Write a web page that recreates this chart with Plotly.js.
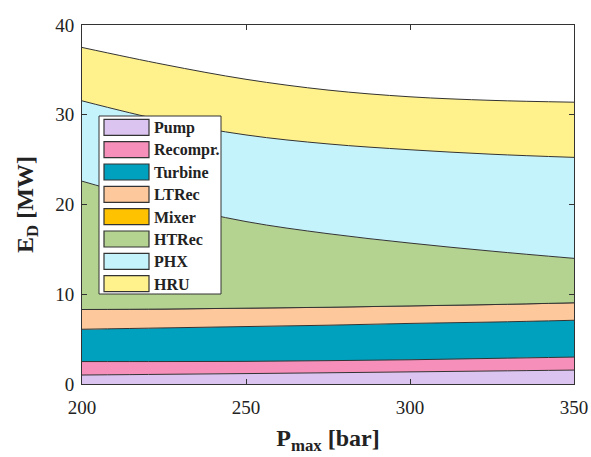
<!DOCTYPE html>
<html>
<head>
<meta charset="utf-8">
<script src="https://cdn.plot.ly/plotly-3.0.1.min.js"></script>
<style>html,body{margin:0;padding:0;background:#fff;}#chart{width:591px;height:457px;}</style>
</head>
<body>
<div id="chart"></div>
<script>
// P_max [bar]
const pmax = [200, 225, 250, 275, 300, 325, 350];
// Exergy destruction per component [MW] (stacked)
const pump     = [1.00, 1.08, 1.16, 1.25, 1.35, 1.45, 1.55];
const recompr  = [1.50, 1.42, 1.36, 1.35, 1.35, 1.40, 1.45];
const turbine  = [3.60, 3.75, 3.88, 3.95, 4.05, 4.05, 4.10];
const ltrec    = [2.20, 2.10, 2.05, 2.00, 1.95, 1.95, 1.95];
const mixer    = [0.00, 0.00, 0.00, 0.00, 0.00, 0.00, 0.00];
const htrec    = [14.30, 11.75, 9.65, 8.20, 7.00, 5.95, 4.95];
const phx      = [8.95, 9.25, 9.65, 10.00, 10.40, 10.80, 11.25];
const hru      = [5.95, 6.25, 6.20, 6.00, 5.90, 6.00, 6.15];

const names  = ['Pump', 'Recompr.', 'Turbine', 'LTRec', 'Mixer', 'HTRec', 'PHX', 'HRU'];
const series = [pump, recompr, turbine, ltrec, mixer, htrec, phx, hru];
const colors = ['#dcc4f1', '#f78fbb', '#00a1bf', '#fdc89b', '#fec200', '#b4d290', '#c5f3fb', '#fff18c'];

const xTicks = [200, 250, 300, 350];
const yTicks = [0, 10, 20, 30, 40];

const traces = series.map((s, i) => ({
  x: pmax,
  y: s,
  name: names[i],
  type: 'scatter',
  mode: 'lines',
  stackgroup: 'one',
  fillcolor: colors[i],
  line: {color: '#333333', width: 1, shape: 'spline', smoothing: 1},
  showlegend: false,
  hoverinfo: 'x+y+name'
}));

// manual legend (boxed swatches like the original)
const L = 82, T = 25, W = 492, H = 359;
const px = v => (v - L) / W;
const py = v => (T + H - v) / H;
const shapes = [{
  type: 'rect', xref: 'paper', yref: 'paper',
  x0: px(99), x1: px(221), y0: py(294), y1: py(116),
  fillcolor: '#ffffff', line: {color: '#333333', width: 1}
}];
const annotations = [];
names.forEach((n, i) => {
  const top = 119.3 + 22.34 * i;
  shapes.push({
    type: 'rect', xref: 'paper', yref: 'paper',
    x0: px(104), x1: px(149), y0: py(top + 16), y1: py(top),
    fillcolor: colors[i], line: {color: '#333333', width: 1.2}
  });
  annotations.push({
    xref: 'paper', yref: 'paper', x: px(152), y: py(top + 8.5),
    xanchor: 'left', yanchor: 'middle', showarrow: false, text: n,
    font: {family: 'Liberation Serif', size: 16, color: '#222222', weight: 'bold'}
  });
});

const layout = {
  width: 591, height: 457,
  margin: {l: 82, r: 17, t: 25, b: 73},
  paper_bgcolor: '#ffffff', plot_bgcolor: '#ffffff',
  showlegend: false,
  font: {family: 'Liberation Serif', color: '#222222'},
  xaxis: {
    range: [200, 350], tickvals: xTicks, ticktext: xTicks.map(String),
    showgrid: false, zeroline: false, showline: true, linecolor: '#333333', linewidth: 1,
    mirror: 'ticks', ticks: 'inside', ticklen: 5, tickcolor: '#333333',
    tickfont: {family: 'Liberation Serif', size: 19, color: '#222222'},
    ticklabelstandoff: 6,
    title: {text: 'P<sub>max</sub> [bar]', standoff: 12,
            font: {family: 'Liberation Serif', size: 24, color: '#222222', weight: 'bold'}}
  },
  yaxis: {
    range: [0, 40], tickvals: yTicks, ticktext: yTicks.map(String),
    showgrid: false, zeroline: false, showline: true, linecolor: '#333333', linewidth: 1,
    mirror: 'ticks', ticks: 'inside', ticklen: 5, tickcolor: '#333333',
    tickfont: {family: 'Liberation Serif', size: 19, color: '#222222'},
    ticklabelstandoff: 3,
    title: {text: 'E<sub>D</sub> [MW]', standoff: 14,
            font: {family: 'Liberation Serif', size: 24, color: '#222222', weight: 'bold'}}
  },
  shapes: shapes,
  annotations: annotations
};

Plotly.newPlot('chart', traces, layout, {displayModeBar: false, staticPlot: true});
</script>
</body>
</html>
